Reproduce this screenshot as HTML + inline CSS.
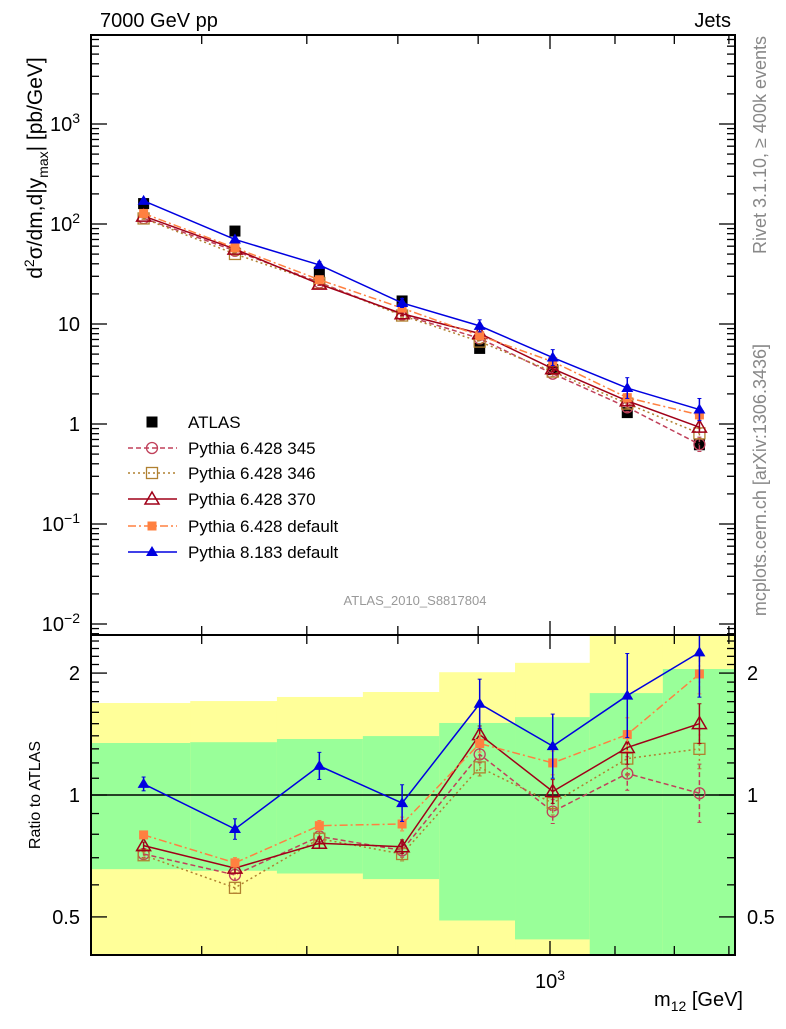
<!DOCTYPE html>
<html><head><meta charset="utf-8"><style>
body{margin:0;background:#fff;}
svg text{font-family:"Liberation Sans",sans-serif;}
</style></head><body>
<svg id="c" width="786" height="1024" viewBox="0 0 786 1024" xmlns="http://www.w3.org/2000/svg">
<g id="bands"></g>
<g id="grid"></g>
<g id="series"></g>
<rect x="91" y="35" width="644" height="600" fill="none" stroke="#000" stroke-width="2"/>
<rect x="91" y="635" width="644" height="320" fill="none" stroke="#000" stroke-width="2"/>
<text x="100" y="27" font-size="20">7000 GeV pp</text>
<text x="731" y="27" font-size="20" text-anchor="end">Jets</text>
<text x="415" y="605" font-size="13" fill="#999" text-anchor="middle">ATLAS_2010_S8817804</text>
<text transform="translate(766,36) rotate(-90)" font-size="18" fill="#888" text-anchor="end">Rivet 3.1.10, ≥ 400k events</text>
<text transform="translate(766,344) rotate(-90)" font-size="18" fill="#888" text-anchor="end">mcplots.cern.ch [arXiv:1306.3436]</text>
<text transform="translate(42,168) rotate(-90)" font-size="21" text-anchor="middle">d<tspan font-size="14" dy="-8">2</tspan><tspan dy="8">σ/dm,d|y</tspan><tspan font-size="14" dy="6">max</tspan><tspan dy="-6">| [pb/GeV]</tspan></text>
<text transform="translate(40,795) rotate(-90)" font-size="16" text-anchor="middle">Ratio to ATLAS</text>
<text x="743" y="1006" font-size="20" text-anchor="end">m<tspan font-size="14" dy="5">12</tspan><tspan dy="-5"> [GeV]</tspan></text>
<g id="legend"></g>
</svg>
<script>
const binEdges=[510,590,670,760,850,950,1060,1180,1310];
const mass=[551,630,713,805,902,1004,1120,1245];
const atlas=[160,85,33,17,5.7,3.5,1.3,0.62];
const greenHi=[1.344,1.35,1.375,1.398,1.506,1.557,1.785,2.047];
const greenLo=[0.656,0.65,0.64,0.62,0.49,0.44,0.35,0.35];
const yellowHi=[1.687,1.706,1.746,1.796,2.01,2.12,3,3];
const yellowLo=[0.3,0.3,0.3,0.3,0.3,0.3,0.3,0.3];
const r345=[0.715,0.635,0.79,0.73,1.26,0.91,1.13,1.01];
const r346=[0.71,0.59,0.78,0.715,1.17,0.955,1.23,1.30];
const r370=[0.75,0.66,0.76,0.745,1.41,1.02,1.31,1.50];
const rP6def=[0.797,0.68,0.84,0.848,1.34,1.20,1.41,1.99];
const rP8def=[1.065,0.824,1.18,0.955,1.68,1.32,1.76,2.25];
const e345=[0.02,0.03,0.03,0.04,0.05,0.07,0.10,0.18];
const e346=[0.02,0.03,0.03,0.04,0.05,0.07,0.10,0.12];
const e370=[0.02,0.03,0.03,0.04,0.05,0.07,0.10,0.12];
const eP6=[0.02,0.03,0.03,0.04,0.05,0.07,0.10,0.12];
const eP8=[0.04,0.06,0.08,0.11,0.15,0.20,0.27,0.29];
const yTicksMain=["10<tspan font-size='14' dy='-8'>−2</tspan>","10<tspan font-size='14' dy='-8'>−1</tspan>","1","10","10<tspan font-size='14' dy='-8'>2</tspan>","10<tspan font-size='14' dy='-8'>3</tspan>"];
const yTickValsMain=[0.01,0.1,1,10,100,1000];
const ratioTickVals=[0.5,1,2];
const ratioTickLabels=["0.5","1","2"];

const NS="http://www.w3.org/2000/svg";
const L=91,R=735;
const xs=m=>550+1570*(Math.log10(m)-3);
const ym=v=>424-100*Math.log10(v);
const yr=v=>{let y=795-405*Math.log10(v);return Math.max(635,Math.min(955,y));};
function mk(p,tag,at){const e=document.createElementNS(NS,tag);for(const k in at)e.setAttribute(k,at[k]);p.appendChild(e);return e;}
const bands=document.getElementById('bands'),grid=document.getElementById('grid'),ser=document.getElementById('series'),leg=document.getElementById('legend');

for(let i=0;i<mass.length;i++){
  const x0=xs(binEdges[i]),x1=xs(binEdges[i+1]);
  let e=mk(bands,'rect',{x:x0,y:yr(yellowHi[i]),width:x1-x0+0.5,height:yr(yellowLo[i])-yr(yellowHi[i]),fill:'#ffff99'});
  
  
  e=mk(bands,'rect',{x:x0,y:yr(greenHi[i]),width:x1-x0+0.5,height:yr(greenLo[i])-yr(greenHi[i]),fill:'#99ff99'});
  
  
}
let ln=mk(grid,'line',{x1:L,x2:R,y1:yr(1),y2:yr(1),stroke:'#000','stroke-width':1.5});


const xt=[600,700,800,900,1000,1100,1200,1300];
xt.forEach(m=>{const x=xs(m);const big=(m===1000);
 [[35,1],[635,-1],[635,1],[955,-1]].forEach(([y,d])=>mk(grid,'line',{x1:x,x2:x,y1:y,y2:y+d*(big?14:9),stroke:'#000','stroke-width':1.3}));});
let t=mk(grid,'text',{x:550,y:988,'font-size':20,'text-anchor':'middle'});t.innerHTML="10<tspan font-size='14' dy='-8'>3</tspan>";


for(let d=-3;d<4;d++)for(let k=1;k<10;k++){const v=k*Math.pow(10,d);const y=ym(v);if(y<35||y>635)continue;const len=k===1?16:8;
 mk(grid,'line',{x1:L,x2:L+len,y1:y,y2:y,stroke:'#000','stroke-width':1.3});mk(grid,'line',{x1:R,x2:R-len,y1:y,y2:y,stroke:'#000','stroke-width':1.3});}
yTickValsMain.forEach((v,i)=>{const e=mk(grid,'text',{x:80,y:ym(v)+7,'font-size':20,'text-anchor':'end'});e.innerHTML=yTicksMain[i];
 
 });
for(let v=0.4;v<=2.5;v+=0.1){const y=yr(v);if(y<=636||y>=954)continue;const big=[0.5,1,2].some(b=>Math.abs(b-v)<1e-6);const len=big?16:8;
 mk(grid,'line',{x1:L,x2:L+len,y1:y,y2:y,stroke:'#000','stroke-width':1.3});mk(grid,'line',{x1:R,x2:R-len,y1:y,y2:y,stroke:'#000','stroke-width':1.3});}
ratioTickVals.forEach((v,i)=>{const e=mk(grid,'text',{x:80,y:yr(v)+7,'font-size':20,'text-anchor':'end'});e.textContent=ratioTickLabels[i];
 
 
 const e2=mk(grid,'text',{x:747,y:yr(v)+7,'font-size':20});e2.textContent=ratioTickLabels[i];
 
 });

function marker(g,type,x,y,col){
 if(type==='circle')return mk(g,'circle',{cx:x,cy:y,r:5.5,fill:'none',stroke:col,'stroke-width':1.3});
 if(type==='square')return mk(g,'rect',{x:x-5.5,y:y-5.5,width:11,height:11,fill:'none',stroke:col,'stroke-width':1.3});
 if(type==='tri')return mk(g,'path',{d:`M${x},${y-7}L${x+7},${y+5}L${x-7},${y+5}Z`,fill:'none',stroke:col,'stroke-width':1.5});
 if(type==='fsq')return mk(g,'rect',{x:x-4.5,y:y-4.5,width:9,height:9,fill:col});
 if(type==='ftri')return mk(g,'path',{d:`M${x},${y-6}L${x+6},${y+4}L${x-6},${y+4}Z`,fill:col});
 if(type==='bsq')return mk(g,'rect',{x:x-5.5,y:y-5.5,width:11,height:11,fill:col});
}
const series=[
 {name:'pythia-6428-345',r:r345,e:e345,col:'#c0405a',dash:'5,3',m:'circle',label:'Pythia 6.428 345'},
 {name:'pythia-6428-346',r:r346,e:e346,col:'#b08030',dash:'2,3',m:'square',label:'Pythia 6.428 346'},
 {name:'pythia-6428-370',r:r370,e:e370,col:'#a00018',dash:'',m:'tri',label:'Pythia 6.428 370'},
 {name:'pythia-6428-default',r:rP6def,e:eP6,col:'#ff8040',dash:'8,3,2,3',m:'fsq',label:'Pythia 6.428 default'},
 {name:'pythia-8183-default',r:rP8def,e:eP8,col:'#0000e0',dash:'',m:'ftri',label:'Pythia 8.183 default'}];
const dg=mk(ser,'g',{});


atlas.forEach((v,i)=>{const x=xs(mass[i]);mk(dg,'line',{x1:x,x2:x,y1:ym(v*1.08),y2:ym(v/1.08),stroke:'#000'});
 const p=marker(dg,'bsq',x,ym(v),'#000');
 
 });
series.forEach(s=>{
 [['main',i=>ym(s.r[i]*atlas[i]),(i,f)=>ym(s.r[i]*atlas[i]*f)],['ratio',i=>yr(s.r[i]),(i,f)=>yr(s.r[i]*f)]].forEach(([pn,yf,yef])=>{
  const g=mk(ser,'g',{});
  
  
  const pts=mass.map((m,i)=>xs(m)+','+yf(i)).join(' ');
  const pl=mk(g,'polyline',{points:pts,fill:'none',stroke:s.col,'stroke-width':1.5,'stroke-dasharray':s.dash});
  
  
  mass.forEach((m,i)=>{const x=xs(m);const ef=1+s.e[i];
   mk(g,'line',{x1:x,x2:x,y1:yef(i,ef),y2:yef(i,1/ef),stroke:s.col,'stroke-width':1.5,'stroke-dasharray':s.dash});
   mk(g,'line',{x1:x-2,x2:x+2,y1:yef(i,ef),y2:yef(i,ef),stroke:s.col});
   mk(g,'line',{x1:x-2,x2:x+2,y1:yef(i,1/ef),y2:yef(i,1/ef),stroke:s.col});
   const p=marker(g,s.m,x,yf(i),s.col);
   
   });
 });
});
const ly=[422,448,473,499,526,552];
let e=marker(leg,'bsq',152,ly[0],'#000');


let lt=mk(leg,'text',{x:188,y:ly[0]+6,'font-size':17});lt.textContent='ATLAS';


series.forEach((s,i)=>{const y=ly[i+1];
 mk(leg,'line',{x1:128,x2:177,y1:y,y2:y,stroke:s.col,'stroke-width':1.5,'stroke-dasharray':s.dash});
 const m=marker(leg,s.m,152,y,s.col);
 
 
 const tt=mk(leg,'text',{x:188,y:y+6,'font-size':17});tt.textContent=s.label;
 
 });
</script>
</body></html>
